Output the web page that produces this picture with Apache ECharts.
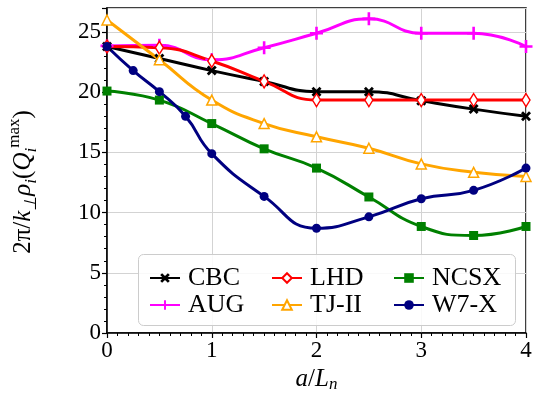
<!DOCTYPE html>
<html>
<head>
<meta charset="utf-8">
<script src="https://cdn.jsdelivr.net/npm/echarts@6/dist/echarts.min.js"></script>
<style>html,body{margin:0;padding:0;background:#fff;}#c{width:536px;height:401px;}</style>
</head>
<body>
<div id="c"></div>
<script>
// ---- data ----
var xMain = [0, 0.5, 1, 1.5, 2, 2.5, 3, 3.5, 4];
var xW7X = [0, 0.25, 0.5, 0.75, 1, 1.5, 2, 2.5, 3, 3.5, 4];
var cbc  = [23.8, 22.8, 21.8, 20.9, 20.05, 20.05, 19.3, 18.6, 18.0];
var aug  = [23.85, 23.9, 22.7, 23.7, 24.9, 26.1, 24.9, 24.9, 23.8];
var lhd  = [23.8, 23.7, 22.6, 20.9, 19.35, 19.35, 19.35, 19.35, 19.35];
var tj2  = [26.0, 22.7, 19.35, 17.4, 16.3, 15.35, 14.05, 13.35, 13.0];
var ncsx = [20.1, 19.35, 17.4, 15.3, 13.7, 11.3, 8.85, 8.1, 8.85];
var w7x  = [23.8, 21.8, 20.05, 18.0, 14.9, 11.35, 8.7, 9.65, 11.15, 11.85, 13.7];
var seriesNames = ['CBC', 'AUG', 'LHD', 'TJ-II', 'NCSX', 'W7-X'];
var xTicks = [0, 1, 2, 3, 4];
var yTicks = [0, 5, 10, 15, 20, 25];

function pairs(xs, ys) { return xs.map(function (x, i) { return [x, ys[i]]; }); }

var FONT = 'Liberation Serif';
var xPath = 'path://M2,0 L5,3 L8,0 L10,2 L7,5 L10,8 L8,10 L5,7 L2,10 L0,8 L3,5 L0,2 Z';
var plusPath = 'path://M4,0 H6 V4 H10 V6 H6 V10 H4 V6 H0 V4 H4 Z';

function mk(name, data, color, symbol, size, fill, bw) {
  return {
    name: name, type: 'line', data: data, smooth: 0.5,
    symbol: symbol, symbolSize: size, showSymbol: true,
    lineStyle: { color: color, width: 3 },
    itemStyle: { color: fill || color, borderColor: color, borderWidth: bw || 0 },
    emphasis: { disabled: true }, animation: false, clip: true
  };
}

var chart = echarts.init(document.getElementById('c'), null, { renderer: 'canvas' });
var legendText = { fontFamily: FONT, fontSize: 26, color: '#000', lineHeight: 20, padding: [0, 0, 0, 3] };
function lg(names, left) {
  return { data: names, orient: 'vertical', left: left, top: 260, itemWidth: 30, itemHeight: 12,
    itemGap: 1, textStyle: legendText, selectedMode: false, z: 10 };
}
chart.setOption({
  animation: false,
  grid: { left: 107, right: 10, top: 8, bottom: 68, show: true, borderColor: '#000', borderWidth: 1.5, backgroundColor: 'transparent' },
  legend: [lg(['CBC', 'AUG'], 144), lg(['LHD', 'TJ-II'], 266), lg(['NCSX', 'W7-X'], 388)],
  graphic: [
    { type: 'rect', z: 5, shape: { x: 138.5, y: 254.5, width: 377, height: 71, r: 5 },
      style: { fill: 'rgba(255,255,255,0.85)', stroke: '#cccccc', lineWidth: 1 } },
    { type: 'text', z: 10, x: 23, y: 182, rotation: Math.PI / 2,
      style: {
        text: '{n|2π/}{i|k}{s|⊥}{i|ρ}{s|i}{n|(}{i|Q}{s|i}{p|max}{n|)}',
        align: 'center', verticalAlign: 'middle', fill: '#000',
        rich: {
          n: { fontFamily: FONT, fontSize: 25, lineHeight: 34, fill: '#000', verticalAlign: 'middle' },
          i: { fontFamily: FONT, fontSize: 25, fontStyle: 'italic', lineHeight: 34, fill: '#000', verticalAlign: 'middle' },
          s: { fontFamily: FONT, fontSize: 17, fontStyle: 'italic', lineHeight: 14, fill: '#000', verticalAlign: 'bottom' },
          p: { fontFamily: FONT, fontSize: 17, lineHeight: 14, fill: '#000', verticalAlign: 'top' }
        }
      } }
  ],
  xAxis: {
    type: 'value', min: xTicks[0], max: xTicks[xTicks.length - 1], interval: 1,
    name: '{i|a}{n|/}{i|L}{s|n}', nameLocation: 'middle', nameGap: 32,
    nameTextStyle: { rich: {
      n: { fontFamily: FONT, fontSize: 25, color: '#000', lineHeight: 28, verticalAlign: 'middle' },
      i: { fontFamily: FONT, fontSize: 25, fontStyle: 'italic', color: '#000', lineHeight: 28, verticalAlign: 'middle' },
      s: { fontFamily: FONT, fontSize: 17, fontStyle: 'italic', color: '#000', lineHeight: 14, verticalAlign: 'bottom' }
    } },
    axisLine: { show: true, onZero: false, lineStyle: { color: '#000', width: 1.5 } },
    axisTick: { show: true, inside: false, length: 5, lineStyle: { color: '#000', width: 1.2 } },
    minorTick: { show: true, splitNumber: 10, length: 3, lineStyle: { color: '#000', width: 1 } },
    axisLabel: { fontFamily: FONT, fontSize: 23, color: '#000', margin: 6 },
    splitLine: { show: true, lineStyle: { color: '#d3d3d3', width: 1 } }
  },
  yAxis: {
    type: 'value', min: yTicks[0], max: 27, interval: 5,
    axisLine: { show: true, onZero: false, lineStyle: { color: '#000', width: 1.5 } },
    axisTick: { show: true, inside: false, length: 5, lineStyle: { color: '#000', width: 1.2 } },
    minorTick: { show: true, splitNumber: 5, length: 3, lineStyle: { color: '#000', width: 1 } },
    axisLabel: { fontFamily: FONT, fontSize: 23, color: '#000', margin: 6, showMaxLabel: false,
      formatter: function (v) { return yTicks.indexOf(v) >= 0 ? String(v) : ''; } },
    splitLine: { show: true, lineStyle: { color: '#d3d3d3', width: 1 } }
  },
  series: [
    mk('CBC', pairs(xMain, cbc), '#000000', xPath, 10),
    mk('AUG', pairs(xMain, aug), '#FF00FF', plusPath, 13),
    mk('LHD', pairs(xMain, lhd), '#FF0000', 'diamond', [8, 13], '#ffffff', 1.5),
    mk('TJ-II', pairs(xMain, tj2), '#FFA500', 'triangle', 10, '#ffffff', 1.5),
    mk('NCSX', pairs(xMain, ncsx), '#008000', 'rect', 9),
    mk('W7-X', pairs(xW7X, w7x), '#000080', 'circle', 9)
  ]
});
</script>
</body>
</html>
